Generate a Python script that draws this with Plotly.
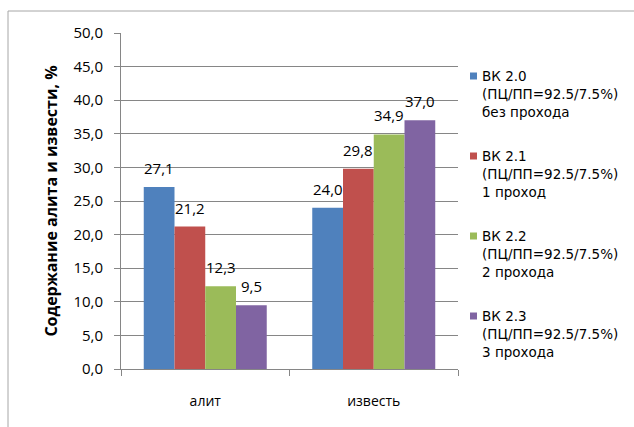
import plotly.graph_objects as go

categories = ["алит", "известь"]
series_lines = [
    ["ВК 2.0", "(ПЦ/ПП=92.5/7.5%)", "без прохода"],
    ["ВК 2.1", "(ПЦ/ПП=92.5/7.5%)", "1 проход"],
    ["ВК 2.2", "(ПЦ/ПП=92.5/7.5%)", "2 прохода"],
    ["ВК 2.3", "(ПЦ/ПП=92.5/7.5%)", "3 прохода"],
]
vk20 = [27.1, 24.0]
vk21 = [21.2, 29.8]
vk22 = [12.3, 34.9]
vk23 = [9.5, 37.0]
series_values = [vk20, vk21, vk22, vk23]
colors = ["#4F81BD", "#C0504D", "#9BBB59", "#8064A2"]
y_ticks = [0, 5, 10, 15, 20, 25, 30, 35, 40, 45, 50]

FONT = "Open Sans"
LEGEND_FONT = "DejaVu Sans"
TICK_FS = 15
CAT_FS = 14
LABEL_FS = 15
LEGEND_FS = 13.5
TITLE_FS = 16
W, H = 634, 427
L, R, T, B = 121, 458, 33, 369
pw, ph = R - L, B - T
BARGAP = 0.27
n_series = len(series_values)
bar_px = pw / len(categories) * (1 - BARGAP) / n_series


def px_x(p):
    return (p - L) / pw


def px_y(p):
    return (B - p) / ph


fig = go.Figure()
annotations = []
shapes = []
for i, (lines, vals, col) in enumerate(zip(series_lines, series_values, colors)):
    fig.add_trace(go.Bar(
        x=categories, y=vals, name=lines[0],
        marker=dict(color=col, line=dict(width=0)),
        showlegend=False,
    ))
    # value labels above each bar
    offset = (i - (n_series - 1) / 2) * bar_px
    for c, v in zip(categories, vals):
        annotations.append(dict(
            x=c, y=v, xref="x", yref="y", text=f"{v:.1f}".replace(".", ","),
            showarrow=False, xanchor="center", yanchor="bottom",
            xshift=offset, yshift=7,
            font=dict(family=FONT, size=LABEL_FS, color="#000000"),
        ))
    # legend entry: colour square and three text lines
    y0 = 76 + 80 * i
    shapes.append(dict(
        type="rect", xref="paper", yref="paper",
        x0=px_x(470), x1=px_x(477), y0=px_y(y0 + 3.5), y1=px_y(y0 - 3.5),
        fillcolor=col, line=dict(width=0),
    ))
    for k, txt in enumerate(lines):
        annotations.append(dict(
            x=px_x(480), y=px_y(y0 + 18 * k), xref="paper", yref="paper",
            text=txt, showarrow=False, xanchor="left", yanchor="middle",
            font=dict(family=LEGEND_FONT, size=LEGEND_FS, color="#000000"),
        ))

shapes.append(dict(
    type="rect", xref="paper", yref="paper",
    x0=px_x(8), x1=px_x(700), y0=px_y(500), y1=px_y(11),
    line=dict(color="#A6A6A6", width=1), fillcolor="rgba(0,0,0,0)",
    layer="below",
))

fig.update_layout(
    width=W, height=H,
    margin=dict(l=L, r=W - R, t=T, b=H - B, pad=0),
    paper_bgcolor="white", plot_bgcolor="white",
    separators=", ",
    font=dict(family=FONT, size=TICK_FS, color="#000000"),
    barmode="group", bargap=BARGAP, bargroupgap=0,
    showlegend=False,
    xaxis=dict(
        type="category", showline=True, linecolor="#868686", linewidth=1,
        ticks="outside", tickson="boundaries", ticklen=6, tickcolor="#868686",
        ticklabelstandoff=19,
        tickfont=dict(family=FONT, size=CAT_FS, color="#000000"),
        showgrid=False, zeroline=False,
    ),
    yaxis=dict(
        range=[0, 50], tickvals=y_ticks, tickformat=".1f",
        showline=True, linecolor="#868686", linewidth=1,
        ticks="outside", ticklen=6, tickcolor="#868686",
        ticklabelstandoff=8,
        showgrid=True, gridcolor="#868686", gridwidth=1, zeroline=False,
        tickfont=dict(family=FONT, size=TICK_FS, color="#000000"),
        title=dict(text="<b>Содержание алита и извести, %</b>", standoff=11,
                   font=dict(family=FONT, size=TITLE_FS, color="#000000")),
    ),
    annotations=annotations,
    shapes=shapes,
)

fig.write_html("out.html")
